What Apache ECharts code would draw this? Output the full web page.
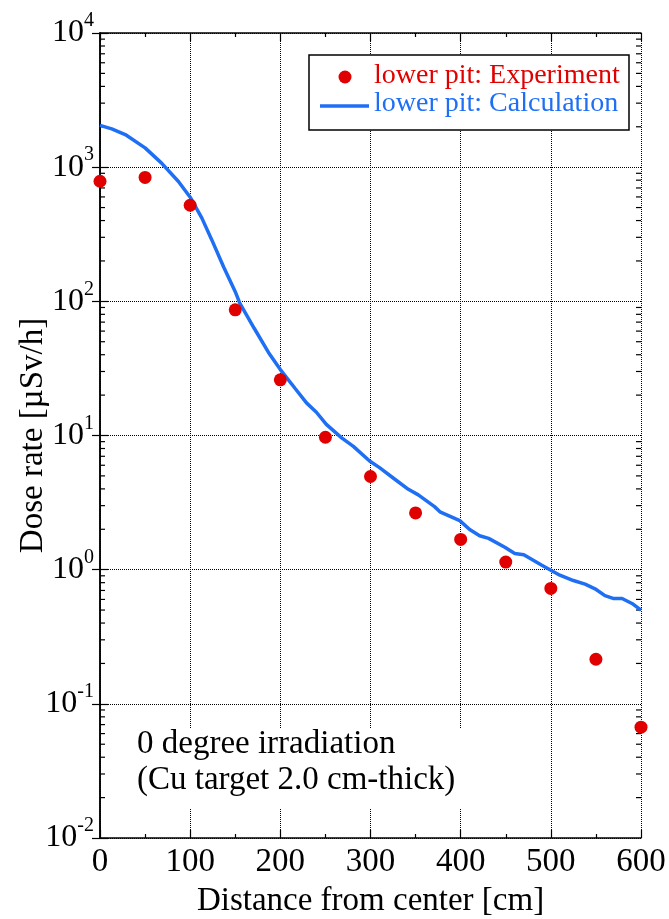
<!DOCTYPE html>
<html>
<head>
<meta charset="utf-8">
<script src="https://cdn.jsdelivr.net/npm/echarts@6/dist/echarts.min.js"></script>
<style>
html,body{margin:0;padding:0;background:#fff;}
#chart{width:669px;height:919px;}
</style>
</head>
<body>
<div id="chart"></div>
<script>
// ---- data ----
const expName = 'lower pit: Experiment';
const calcName = 'lower pit: Calculation';
const expX = [0, 50, 100, 150, 200, 250, 300, 350, 400, 450, 500, 550, 600];
const expY = [785, 838, 520, 86.5, 26.0, 9.7, 4.95, 2.65, 1.68, 1.14, 0.725, 0.215, 0.067];
const calcX = [0, 13, 28, 50, 68, 87, 100, 113, 124, 137, 150, 155, 171, 187, 200, 216, 229, 240, 251, 268, 281, 299, 310, 327, 342, 353, 371, 377, 394, 399, 410, 421, 431, 449, 460, 470, 481, 490, 499, 510, 525, 538, 549, 560, 569, 579, 590, 600];
const calcY = [2050, 1930, 1750, 1393, 1076, 782, 597, 417, 287, 181, 118, 97, 63, 41.4, 31.0, 22.6, 17.5, 14.9, 12.1, 9.6, 8.3, 6.45, 5.76, 4.72, 3.97, 3.61, 2.95, 2.7, 2.4, 2.32, 1.99, 1.79, 1.71, 1.47, 1.32, 1.29, 1.17, 1.08, 1.0, 0.91, 0.83, 0.78, 0.72, 0.64, 0.61, 0.61, 0.56, 0.50];
const xTicks = [0, 100, 200, 300, 400, 500, 600];
const yExponents = [-2, -1, 0, 1, 2, 3, 4];
const xTitle = 'Distance from center [cm]';
const yTitle = 'Dose rate [µSv/h]';
const noteLines = ['0 degree irradiation', '(Cu target 2.0 cm-thick)'];

// ---- styles ----
const FONT = "'Liberation Serif', 'Times New Roman', serif";
const RED = '#e00000';
const BLUE = '#1f6ff5';

// minor log ticks (axis structure)
const yMinor = [];
for (let k = yExponents[0]; k < yExponents[yExponents.length - 1]; k++) {
  for (let m = 2; m <= 9; m++) yMinor.push([0, m * Math.pow(10, k)]);
}

const chart = echarts.init(document.getElementById('chart'), null, {renderer: 'canvas'});
const yMin = Math.pow(10, yExponents[0]);
const yMax = Math.pow(10, yExponents[yExponents.length - 1]);

const axisLineStyle = {color: '#000', width: 1.5};

chart.setOption({
  animation: false,
  backgroundColor: '#fff',
  grid: {left: 100, right: 28, top: 33, bottom: 81, containLabel: false, outerBoundsMode: 'none'},
  xAxis: [{
    type: 'value', position: 'bottom',
    min: xTicks[0], max: xTicks[xTicks.length - 1], interval: 100,
    axisLine: {show: true, lineStyle: axisLineStyle},
    axisTick: {show: true, inside: true, length: 8, lineStyle: {color: '#000', width: 1.2}},
    minorTick: {show: true, splitNumber: 2, length: 4, lineStyle: {color: '#000', width: 1.2}},
    splitLine: {show: true, lineStyle: {type: 'dotted', color: '#000', width: 1}},
    axisLabel: {fontFamily: FONT, fontSize: 33, color: '#000', margin: 8},
    name: xTitle, nameLocation: 'middle', nameGap: 47, nameMoveOverlap: false,
    nameTextStyle: {fontFamily: FONT, fontSize: 33, color: '#000'}
  }, {
    type: 'value', position: 'top',
    min: xTicks[0], max: xTicks[xTicks.length - 1], interval: 100,
    axisLine: {show: true, lineStyle: axisLineStyle},
    axisTick: {show: true, inside: true, length: 8, lineStyle: {color: '#000', width: 1.2}},
    minorTick: {show: true, splitNumber: 2, length: 4, lineStyle: {color: '#000', width: 1.2}},
    splitLine: {show: false},
    axisLabel: {show: false}
  }],
  yAxis: [{
    type: 'log', logBase: 10, position: 'left',
    min: yMin, max: yMax, interval: 1,
    axisLine: {show: true, lineStyle: axisLineStyle},
    axisTick: {show: true, inside: true, length: 8, lineStyle: {color: '#000', width: 1.2}},
    splitLine: {show: true, lineStyle: {type: 'dotted', color: '#000', width: 1}},
    axisLabel: {
      margin: 6,
      formatter: function (v) {
        const e = Math.round(Math.log10(v));
        return '{b|10}{s|' + e + '}';
      },
      rich: {
        b: {fontFamily: FONT, fontSize: 32, color: '#000', lineHeight: 44},
        s: {fontFamily: FONT, fontSize: 20, color: '#000', verticalAlign: 'top'}
      }
    },
    name: yTitle, nameLocation: 'middle', nameGap: 50, nameRotate: 90, nameMoveOverlap: false,
    nameTextStyle: {fontFamily: FONT, fontSize: 33, color: '#000'}
  }, {
    type: 'log', logBase: 10, position: 'right',
    min: yMin, max: yMax, interval: 1,
    axisLine: {show: true, lineStyle: axisLineStyle},
    axisTick: {show: true, inside: true, length: 8, lineStyle: {color: '#000', width: 1.2}},
    splitLine: {show: false},
    axisLabel: {show: false}
  }],
  series: [{
    type: 'custom', name: 'minorY', silent: true, xAxisIndex: 0, yAxisIndex: 0,
    data: yMinor, z: 1,
    renderItem: function (params, api) {
      const p = api.coord([0, api.value(1)]);
      const cs = params.coordSys;
      const st = {stroke: '#000', lineWidth: 1.2};
      return {type: 'group', children: [
        {type: 'line', shape: {x1: cs.x, y1: p[1], x2: cs.x + 5, y2: p[1]}, style: st},
        {type: 'line', shape: {x1: cs.x + cs.width - 5, y1: p[1], x2: cs.x + cs.width, y2: p[1]}, style: st}
      ]};
    }
  }, {
    type: 'line', name: calcName, xAxisIndex: 0, yAxisIndex: 0,
    data: calcX.map((x, i) => [x, calcY[i]]),
    showSymbol: false, smooth: false, z: 3,
    lineStyle: {color: BLUE, width: 3.5}, itemStyle: {color: BLUE}
  }, {
    type: 'scatter', name: expName, xAxisIndex: 0, yAxisIndex: 0,
    data: expX.map((x, i) => [x, expY[i]]),
    symbol: 'circle', symbolSize: 13, z: 4,
    itemStyle: {color: RED, opacity: 1}
  }],
  graphic: [
    // annotation with white background
    {type: 'rect', z: 5, shape: {x: 118, y: 728, width: 356, height: 81}, style: {fill: '#fff'}},
    {type: 'text', z: 6, left: 137, top: 728, style: {text: noteLines[0], font: '33px ' + FONT, fill: '#000'}},
    {type: 'text', z: 6, left: 137, top: 764, style: {text: noteLines[1], font: '33px ' + FONT, fill: '#000'}},
    // legend box
    {type: 'rect', z: 5, shape: {x: 309, y: 55, width: 320, height: 75}, style: {fill: '#fff', stroke: '#000', lineWidth: 1.5}},
    {type: 'circle', z: 6, shape: {cx: 345, cy: 77, r: 6.5}, style: {fill: RED}},
    {type: 'line', z: 6, shape: {x1: 320, y1: 106, x2: 369, y2: 106}, style: {stroke: BLUE, lineWidth: 3.5}},
    {type: 'text', z: 6, left: 374, top: 62, style: {text: expName, font: '28px ' + FONT, fill: RED}},
    {type: 'text', z: 6, left: 374, top: 90, style: {text: calcName, font: '28px ' + FONT, fill: BLUE}}
  ]
});
</script>
</body>
</html>
